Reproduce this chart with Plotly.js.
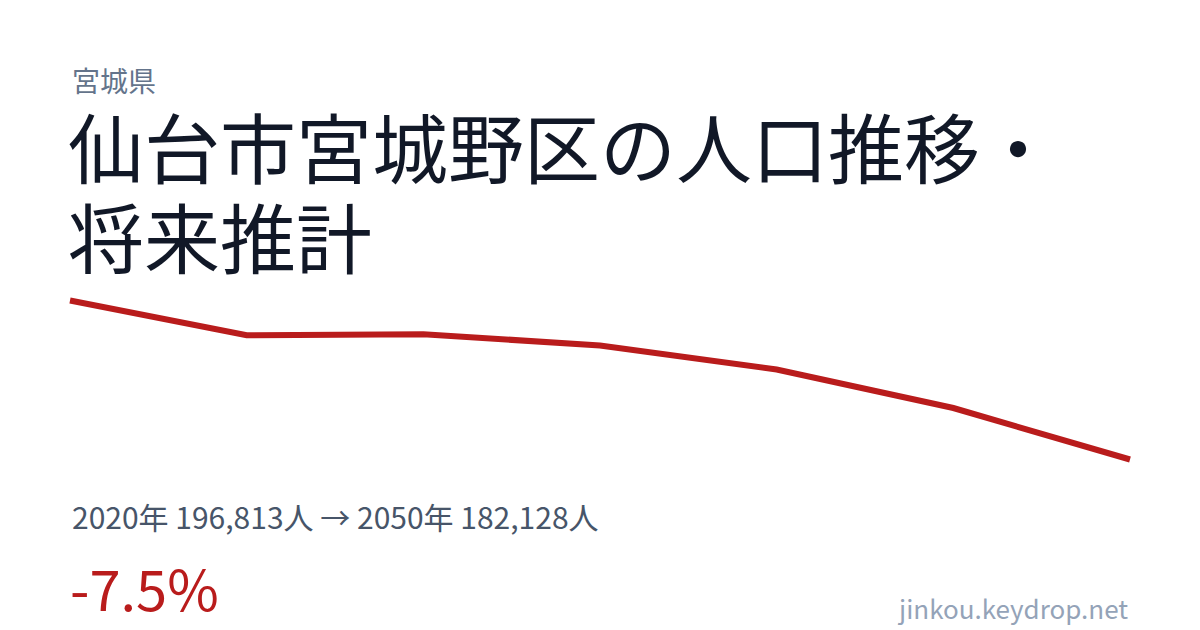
<!DOCTYPE html>
<html>
<head>
<meta charset="utf-8">
<script src="https://cdn.plot.ly/plotly-3.0.1.min.js"></script>
<style>
  html, body { margin: 0; padding: 0; background: #ffffff; }
  #chart { width: 1200px; height: 630px; }
</style>
</head>
<body>
<div id="chart"></div>
<script>
// population by year
var years = [2020, 2025, 2030, 2035, 2040, 2045, 2050];
var population = [196813, 193608, 193700, 192657, 190440, 186884, 182128];

var prefecture = "宮城県";
var titleLines = ["仙台市宮城野区の人口推移・", "将来推計"];
var siteName = "jinkou.keydrop.net";

var font = '"Noto Sans CJK JP", "Noto Sans", sans-serif';

// summary text built from first / last value
function fmt(n) {
  return n.toLocaleString("en-US");
}
var first = population[0];
var last = population[population.length - 1];
var change = (last - first) / first * 100;
var summary = years[0] + "年 " + fmt(first) + "人 → " + years[years.length - 1] + "年 " + fmt(last) + "人";
var changeText = (change > 0 ? "+" : "") + change.toFixed(1) + "%";

// plot area: 60..1140 px wide, 290..470 px high
var ml = 60, mr = 60, mt = 290, mb = 160;
var plotW = 1200 - ml - mr;
var plotH = 630 - mt - mb;

// paper coords from page pixels, for the text around the line
function px(x) { return (x - ml) / plotW; }
function py(y) { return (630 - mb - y) / plotH; }

// small padding so the thick line is not clipped at its ends
var xPad = 10 / (1060 / (years[years.length - 1] - years[0]));
var yPad = (first - last) / 159 * 10.5;

var trace = {
  x: years,
  y: population,
  type: "scatter",
  mode: "lines",
  line: { color: "#b91c1c", width: 6 },
  hoverinfo: "skip"
};

var annotations = [
  { text: prefecture, x: px(70), y: py(80), height: 34, font: { size: 28, color: "#64748b" } },
  { text: titleLines[0], x: px(66), y: py(145), height: 86, font: { size: 76, color: "#111827" } },
  { text: titleLines[1], x: px(66), y: py(235), height: 86, font: { size: 76, color: "#111827" } },
  { text: summary, x: px(70), y: py(516), font: { size: 30, color: "#475569" } },
  { text: changeText, x: px(68), y: py(586), font: { size: 56, color: "#b91c1c" } },
  { text: siteName, x: px(1130), y: py(607), xanchor: "right", font: { size: 26, color: "#94a3b8" } }
].map(function (a) {
  return Object.assign({
    xref: "paper",
    yref: "paper",
    xanchor: "left",
    yanchor: "middle",
    showarrow: false
  }, a, { font: Object.assign({ family: font }, a.font) });
});

var layout = {
  width: 1200,
  height: 630,
  margin: { l: ml, r: mr, t: mt, b: mb, pad: 0 },
  paper_bgcolor: "#ffffff",
  plot_bgcolor: "#ffffff",
  showlegend: false,
  xaxis: {
    range: [years[0] - xPad, years[years.length - 1] + xPad],
    visible: false,
    fixedrange: true
  },
  yaxis: {
    range: [last - yPad, first + yPad],
    visible: false,
    fixedrange: true
  },
  annotations: annotations
};

Plotly.newPlot("chart", [trace], layout, { displayModeBar: false, staticPlot: true });
</script>
</body>
</html>
